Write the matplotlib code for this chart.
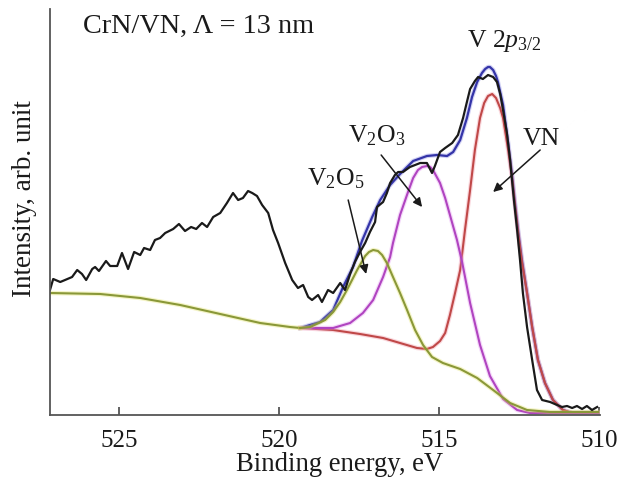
import matplotlib
matplotlib.use("Agg")
import matplotlib.pyplot as plt
import matplotlib.patheffects as pe

plt.rcParams["font.family"] = "Liberation Serif"
plt.rcParams["mathtext.fontset"] = "custom"
plt.rcParams["mathtext.rm"] = "Liberation Serif"
plt.rcParams["mathtext.it"] = "Liberation Serif:italic"

# measured V 2p3/2 spectrum (binding energy, eV / intensity, arb. unit)
exp_be = [527.16, 527.06, 526.84, 526.69, 526.47, 526.31, 526.16, 526.03, 525.84, 525.75,
          525.63, 525.41, 525.28, 525.06, 524.91, 524.72, 524.53, 524.34, 524.22, 524.03,
          523.88, 523.72, 523.56, 523.31, 523.13, 522.94, 522.75, 522.59, 522.41, 522.25,
          522.06, 521.84, 521.63, 521.44, 521.28, 521.13, 520.97, 520.84, 520.69, 520.53,
          520.34, 520.19, 520.03, 519.81, 519.59, 519.41, 519.25, 519.09, 518.97, 518.78,
          518.66, 518.47, 518.31, 518.09, 517.94, 517.78, 517.63, 517.47, 517.31, 517.16,
          517.00, 516.94, 516.75, 516.63, 516.53, 516.38, 516.28, 516.13, 515.91, 515.75,
          515.59, 515.38, 515.22, 515.13, 514.97, 514.81, 514.59, 514.41, 514.25, 514.13,
          514.03, 513.88, 513.78, 513.63, 513.47, 513.31, 513.19, 513.09, 513.00, 512.88,
          512.78, 512.66, 512.56, 512.47, 512.38, 512.25, 512.09, 511.94, 511.78, 511.53,
          511.31, 511.16, 511.00, 510.84, 510.69, 510.53, 510.38, 510.22, 510.06]
exp_int = [125, 136, 133, 135, 138, 145, 141, 135, 146, 148,
           144, 154, 149, 149, 162, 146, 163, 160, 167, 165,
           175, 177, 182, 186, 191, 184, 188, 186, 192, 188,
           198, 202, 212, 222, 215, 217, 224, 222, 219, 210,
           202, 185, 172, 152, 135, 127, 130, 118, 115, 120,
           113, 125, 122, 132, 125, 141, 153, 163, 172, 183,
           193, 208, 213, 222, 232, 240, 243, 243, 248, 250,
           252, 252, 242, 249, 263, 267, 272, 280, 297, 313,
           326, 334, 338, 336, 340, 338, 333, 321, 305, 282,
           255, 215, 185, 155, 122, 88, 55, 25, 15, 13,
           10, 8, 9, 7, 9, 6, 9, 5, 8]

# Shirley background below the peak region
bg_be = [527.16, 525.59, 524.34, 523.09, 521.84, 520.59, 519.66, 519.34]
bg_int = [122, 121, 117, 110, 101, 92, 88, 87]

# V2O5 component (on background)
v2o5_be = [519.34, 519.03, 518.56, 518.31, 518.09, 517.88, 517.56, 517.31, 517.19, 517.06,
           516.91, 516.78, 516.63, 516.44, 516.22, 516.00, 515.75, 515.50, 515.22, 514.88,
           514.34, 513.81, 513.31, 512.78, 512.25, 511.53, 510.03]
v2o5_int = [87, 88, 95, 103, 113, 125, 145, 159, 163, 165,
            164, 160, 152, 138, 122, 105, 85, 70, 58, 52,
            46, 37, 25, 12, 5, 3, 3]

# V2O3 component (on background)
v2o3_be = [519.34, 518.31, 517.78, 517.38, 517.06, 516.75, 516.53, 516.44, 516.22, 515.97,
           515.81, 515.66, 515.53, 515.38, 515.28, 515.19, 514.97, 514.81, 514.66, 514.44,
           514.28, 514.03, 513.72, 513.41, 513.00, 512.56, 512.16, 510.03]
v2o3_int = [87, 87, 92, 102, 115, 138, 158, 172, 200, 223,
            237, 245, 248, 249, 248, 245, 232, 217, 200, 175,
            153, 112, 70, 39, 16, 5, 2, 2]

# VN component (on background)
vn_be = [519.34, 518.31, 517.47, 516.75, 516.22, 515.69, 515.38, 515.19, 514.97, 514.81,
         514.66, 514.50, 514.34, 514.19, 514.03, 513.88, 513.72, 513.59, 513.47, 513.34,
         513.22, 513.09, 513.00, 512.84, 512.72, 512.63, 512.53, 512.41, 512.25, 512.09,
         511.91, 511.69, 511.44, 511.13, 510.84, 510.03]
vn_int = [87, 85, 81, 77, 72, 67, 66, 68, 74, 82,
          100, 122, 145, 185, 225, 265, 297, 312, 319, 321,
          317, 307, 297, 265, 237, 210, 182, 153, 122, 88,
          55, 32, 15, 5, 2, 2]

# total fit envelope
fit_be = [519.34, 518.72, 518.31, 518.00, 517.69, 517.41, 517.09, 516.84, 516.53, 516.22,
          515.81, 515.38, 515.06, 514.75, 514.56, 514.34, 514.13, 513.97, 513.81, 513.66,
          513.56, 513.47, 513.41, 513.31, 513.22, 513.16, 513.00, 512.84, 512.72, 512.63,
          512.53, 512.41, 512.25, 512.09, 511.91, 511.69, 511.44, 511.13, 510.84, 510.03]
fit_int = [87, 93, 105, 128, 148, 174, 198, 215, 230, 241,
           254, 259, 260, 259, 263, 275, 297, 318, 333, 342,
           346, 348, 348, 345, 339, 333, 310, 272, 241, 213,
           185, 155, 122, 88, 55, 32, 15, 5, 2, 2]

x_ticks = [525, 520, 515, 510]


def halo(color):
    return [pe.Stroke(linewidth=3.2, foreground=color, alpha=0.35), pe.Normal()]


fig = plt.figure(figsize=(6.28, 4.79), dpi=100)
ax = fig.add_axes([50 / 628, 64 / 479, 550 / 628, 406 / 479])

ax.plot(fit_be, fit_int, color="#3434a8", lw=1.6, path_effects=halo("#8080e0"))
ax.plot(vn_be, vn_int, color="#c04848", lw=1.5, path_effects=halo("#f090a0"))
ax.plot(v2o3_be, v2o3_int, color="#b044c0", lw=1.5, path_effects=halo("#e090f0"))
ax.plot(bg_be, bg_int, color="#8a9838", lw=1.5, path_effects=halo("#e0e060"))
ax.plot(v2o5_be, v2o5_int, color="#8a9838", lw=1.5, path_effects=halo("#e0e060"))
ax.plot(exp_be, exp_int, color="#1a1a1a", lw=1.6)

ax.set_xlim(527.16, 509.97)
ax.set_ylim(0, 406)
ax.set_xticks(x_ticks)
ax.set_yticks([])
for side in ("top", "right"):
    ax.spines[side].set_visible(False)
for side in ("left", "bottom"):
    ax.spines[side].set_color("#555555")
    ax.spines[side].set_linewidth(1.3)
ax.tick_params(axis="x", direction="in", length=6, width=1.3, color="#555555",
               labelsize=18, pad=11, labelcolor="#1a1a1a")

ax.set_xlabel("Binding energy, eV", fontsize=19.2, color="#1a1a1a")
ax.xaxis.set_label_coords(0.527, -0.092)
ax.set_ylabel("Intensity, arb. unit", fontsize=19.5, color="#1a1a1a")
ax.yaxis.set_label_coords(-0.024, 0.534)

ax.text(0.06, 0.941, "CrN/VN, \u039b = 13 nm", transform=ax.transAxes,
        fontsize=20.3, color="#1a1a1a", va="baseline", ha="left")
ax.text(514.125, 368, "V 2$p_{3/2}$", fontsize=18.5, color="#1a1a1a", va="baseline", ha="left")
ax.text(511.81, 270, "VN", fontsize=18.5, color="#1a1a1a", va="baseline", ha="center")
ax.text(517.84, 273, "V$_2$O$_3$", fontsize=18.5, color="#1a1a1a", va="baseline", ha="left")
ax.text(519.125, 230, "V$_2$O$_5$", fontsize=18.5, color="#1a1a1a", va="baseline", ha="left")

arrow = dict(arrowstyle="-|>", color="#1a1a1a", lw=1.1, mutation_scale=13, shrinkA=0, shrinkB=0)
ax.annotate("", xy=(517.28, 141), xytext=(517.84, 215), arrowprops=arrow)
ax.annotate("", xy=(515.53, 208), xytext=(516.81, 260), arrowprops=arrow)
ax.annotate("", xy=(513.31, 223), xytext=(511.84, 265), arrowprops=arrow)

fig.savefig("out.png", dpi=100)
